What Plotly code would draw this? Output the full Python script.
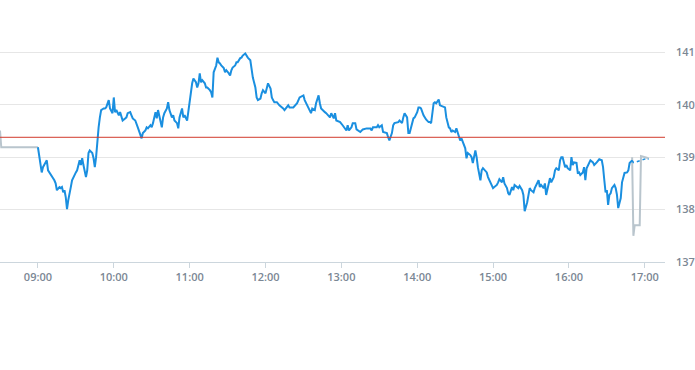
import plotly.graph_objects as go

DAY = "2024-01-02 "

# Regular session (blue line)
times = [
    "09:00", "09:01", "09:02", "09:03", "09:04", "09:06", "09:07", "09:08", "09:10", "09:12",
    "09:13", "09:14", "09:15", "09:17", "09:18", "09:19", "09:20", "09:21", "09:22", "09:23",
    "09:24", "09:25", "09:26", "09:27", "09:29", "09:30", "09:31", "09:32", "09:33", "09:34",
    "09:35", "09:36", "09:37", "09:38", "09:39", "09:40", "09:41", "09:43", "09:44", "09:45",
    "09:46", "09:47", "09:48", "09:49", "09:50", "09:52", "09:53", "09:54", "09:56", "09:57",
    "09:59", "10:00", "10:01", "10:02", "10:04", "10:05", "10:06", "10:07", "10:09", "10:10",
    "10:11", "10:13", "10:14", "10:15", "10:17", "10:18", "10:19", "10:22", "10:23", "10:25",
    "10:26", "10:27", "10:29", "10:30", "10:31", "10:33", "10:34", "10:35", "10:37", "10:38",
    "10:39", "10:40", "10:42", "10:43", "10:44", "10:46", "10:47", "10:48", "10:50", "10:51",
    "10:52", "10:54", "10:55", "10:56", "10:58", "10:59", "11:00", "11:01", "11:02", "11:03",
    "11:05", "11:06", "11:07", "11:08", "11:09", "11:10", "11:12", "11:13", "11:14", "11:16",
    "11:17", "11:18", "11:19", "11:21", "11:22", "11:23", "11:24", "11:25", "11:27", "11:28",
    "11:29", "11:31", "11:32", "11:33", "11:34", "11:36", "11:37", "11:38", "11:40", "11:41",
    "11:42", "11:44", "11:45", "11:46", "11:48", "11:49", "11:50", "11:52", "11:53", "11:54",
    "11:56", "11:57", "11:58", "12:00", "12:01", "12:02", "12:04", "12:05", "12:06", "12:07",
    "12:09", "12:11", "12:14", "12:15", "12:18", "12:19", "12:22", "12:25", "12:27", "12:30",
    "12:31", "12:34", "12:36", "12:37", "12:39", "12:40", "12:42", "12:43", "12:44", "12:47",
    "12:48", "12:51", "12:52", "12:54", "12:55", "12:56", "12:59", "13:01", "13:04", "13:05",
    "13:06", "13:08", "13:09", "13:11", "13:12", "13:15", "13:17", "13:20", "13:23", "13:24",
    "13:25", "13:28", "13:29", "13:30", "13:32", "13:33", "13:36", "13:37", "13:38", "13:40",
    "13:41", "13:42", "13:45", "13:46", "13:48", "13:49", "13:50", "13:52", "13:53", "13:54",
    "13:56", "13:57", "13:58", "14:00", "14:01", "14:02", "14:03", "14:05", "14:07", "14:09",
    "14:10", "14:11", "14:13", "14:14", "14:15", "14:17", "14:18", "14:21", "14:22", "14:23",
    "14:25", "14:26", "14:27", "14:28", "14:30", "14:31", "14:32", "14:34", "14:35", "14:36",
    "14:38", "14:39", "14:40", "14:42", "14:43", "14:44", "14:46", "14:47", "14:48", "14:50",
    "14:51", "14:52", "14:55", "14:56", "14:57", "14:59", "15:00", "15:01", "15:03", "15:04",
    "15:05", "15:07", "15:08", "15:09", "15:11", "15:12", "15:13", "15:15", "15:16", "15:17",
    "15:19", "15:20", "15:21", "15:23", "15:24", "15:25", "15:27", "15:28", "15:29", "15:30",
    "15:32", "15:33", "15:34", "15:36", "15:37", "15:38", "15:40", "15:41", "15:42", "15:44",
    "15:45", "15:46", "15:48", "15:49", "15:50", "15:52", "15:53", "15:54", "15:55", "15:57",
    "15:58", "15:59", "16:01", "16:02", "16:03", "16:04", "16:06", "16:07", "16:08", "16:09",
    "16:11", "16:12", "16:13", "16:14", "16:16", "16:17", "16:19", "16:20", "16:22", "16:23",
    "16:24", "16:26", "16:27", "16:28", "16:29", "16:30", "16:31", "16:32", "16:33", "16:34",
    "16:36", "16:37", "16:38", "16:39", "16:41", "16:42", "16:43", "16:44", "16:46", "16:47",
    "16:48", "16:50",
]
prices = [
    139.19, 139.04, 138.94, 138.71, 138.81, 138.90, 138.94, 138.75, 138.66, 138.60,
    138.56, 138.50, 138.37, 138.43, 138.41, 138.43, 138.33, 138.37, 138.24, 138.01,
    138.18, 138.28, 138.43, 138.56, 138.68, 138.71, 138.75, 138.85, 138.94, 138.85,
    138.98, 138.85, 138.71, 138.62, 138.75, 139.08, 139.13, 139.08, 138.98, 138.81,
    139.00, 139.32, 139.57, 139.76, 139.90, 139.93, 139.93, 139.95, 140.09, 139.93,
    139.84, 140.14, 139.86, 139.90, 139.80, 139.86, 139.76, 139.70, 139.74, 139.76,
    139.84, 139.86, 139.80, 139.74, 139.70, 139.65, 139.57, 139.36, 139.46, 139.51,
    139.57, 139.55, 139.61, 139.57, 139.65, 139.86, 139.74, 139.90, 139.70, 139.57,
    139.76, 139.84, 139.93, 140.05, 139.90, 139.76, 139.80, 139.70, 139.65, 139.55,
    139.76, 139.93, 139.76, 139.80, 139.70, 139.90, 140.05, 140.22, 140.41, 140.50,
    140.43, 140.33, 140.41, 140.60, 140.43, 140.47, 140.41, 140.33, 140.33, 140.28,
    140.24, 140.14, 140.62, 140.75, 140.90, 140.81, 140.79, 140.75, 140.70, 140.62,
    140.66, 140.60, 140.56, 140.66, 140.71, 140.75, 140.81, 140.81, 140.89, 140.90,
    140.94, 140.98, 140.94, 140.90, 140.85, 140.71, 140.52, 140.33, 140.14, 140.09,
    140.12, 140.22, 140.28, 140.22, 140.33, 140.41, 140.31, 140.14, 140.09, 140.05,
    140.05, 139.99, 139.93, 139.90, 139.99, 139.95, 139.95, 140.03, 140.14, 140.18,
    140.09, 139.93, 139.84, 139.93, 139.90, 140.03, 140.18, 140.03, 139.93, 139.86,
    139.84, 139.76, 139.84, 139.74, 139.84, 139.70, 139.67, 139.61, 139.51, 139.61,
    139.51, 139.57, 139.65, 139.65, 139.53, 139.48, 139.53, 139.55, 139.55, 139.51,
    139.57, 139.57, 139.61, 139.57, 139.61, 139.48, 139.46, 139.38, 139.32, 139.46,
    139.61, 139.65, 139.67, 139.70, 139.65, 139.76, 139.84, 139.76, 139.46, 139.46,
    139.65, 139.74, 139.76, 139.86, 139.95, 139.95, 139.93, 139.80, 139.72, 139.67,
    139.67, 139.65, 140.03, 140.05, 140.03, 140.10, 139.99, 139.97, 139.95, 139.76,
    139.57, 139.55, 139.48, 139.51, 139.48, 139.55, 139.48, 139.32, 139.36, 139.29,
    139.17, 138.98, 139.08, 139.04, 139.00, 138.89, 139.13, 139.00, 138.81, 138.56,
    138.75, 138.79, 138.71, 138.62, 138.56, 138.47, 138.41, 138.43, 138.47, 138.52,
    138.58, 138.52, 138.62, 138.50, 138.41, 138.31, 138.28, 138.43, 138.37, 138.47,
    138.43, 138.41, 138.45, 138.37, 138.28, 137.97, 138.14, 138.31, 138.41, 138.37,
    138.33, 138.41, 138.47, 138.56, 138.43, 138.47, 138.41, 138.50, 138.28, 138.50,
    138.60, 138.52, 138.62, 138.75, 138.79, 138.75, 138.94, 139.00, 139.00, 138.81,
    138.85, 138.79, 138.75, 139.00, 138.85, 138.90, 138.89, 138.70, 138.71, 138.66,
    138.71, 138.81, 138.56, 138.79, 138.89, 138.94, 138.90, 138.85, 138.90, 138.94,
    138.96, 138.94, 138.81, 138.56, 138.33, 138.37, 138.09, 138.28, 138.31, 138.41,
    138.47, 138.41, 138.28, 138.03, 138.22, 138.52, 138.60, 138.70, 138.71, 138.75,
    138.89, 138.94,
]

# Tail of the blue line after the close (dotted)
tail_times = ["16:50", "16:51", "16:52", "16:55", "16:57", "17:00", "17:02", "17:03"]
tail_prices = [138.94, 138.90, 138.90, 138.92, 138.94, 138.96, 138.98, 138.96]

# Pre-market (grey)
pre_times = ["08:30", "08:31", "09:00"]
pre_prices = [139.51, 139.19, 139.19]

# After-hours (grey)
post_times = ["16:50", "16:51", "16:52", "16:56", "16:57", "17:01", "17:03"]
post_prices = [139.00, 137.50, 137.70, 137.70, 139.02, 139.00, 138.98]

prev_close = 139.38

y_ticks = [137, 138, 139, 140, 141]
x_start, x_end = "08:30", "17:16"

BLUE = "#1a8fe0"
GREY = "#b9c5cd"
RED = "#d23a2c"
TICK = "#7b8794"

def d(ts):
    return [DAY + t for t in ts]

fig = go.Figure()
fig.add_trace(go.Scatter(x=d(pre_times), y=pre_prices, mode="lines",
                         line=dict(color=GREY, width=2), hoverinfo="skip"))
fig.add_trace(go.Scatter(x=d(post_times), y=post_prices, mode="lines",
                         line=dict(color=GREY, width=2), hoverinfo="skip"))
fig.add_trace(go.Scatter(x=d(tail_times), y=tail_prices, mode="lines",
                         line=dict(color=BLUE, width=1.5, dash="dot")))
fig.add_trace(go.Scatter(x=d(times), y=prices, mode="lines",
                         line=dict(color=BLUE, width=2)))
fig.add_shape(type="line", xref="paper", x0=0, x1=1, yref="y",
              y0=prev_close, y1=prev_close, line=dict(color=RED, width=1), layer="above")

fig.update_layout(
    width=695, height=370,
    margin=dict(l=0, r=30, t=0, b=108, autoexpand=False),
    paper_bgcolor="white", plot_bgcolor="white",
    showlegend=False,
    font=dict(family="Open Sans", size=11, color=TICK),
    xaxis=dict(
        type="date", range=[DAY + x_start, DAY + x_end], automargin=False,
        tickformat="%H:%M", dtick=3600000, tick0=DAY + "09:00",
        showgrid=False, zeroline=False,
        showline=True, linecolor="#ccd6dd", linewidth=1,
        ticks="outside", ticklen=5, tickcolor="#ccd6dd",
        tickfont=dict(family="Open Sans", size=11, color=TICK, weight=600),
    ),
    yaxis=dict(
        side="right", range=[137, 142], tickvals=y_ticks, automargin=False,
        showgrid=True, gridcolor="#e6e6e6", gridwidth=1, zeroline=False,
        showline=False, ticks="", ticklabelstandoff=10,
        tickfont=dict(family="Open Sans", size=11, color=TICK, weight=600),
    ),
)

fig.write_html(
    "out.html",
    config={"displayModeBar": False},
    post_script="document.body.style.margin='0';document.body.style.overflow='hidden';",
)
